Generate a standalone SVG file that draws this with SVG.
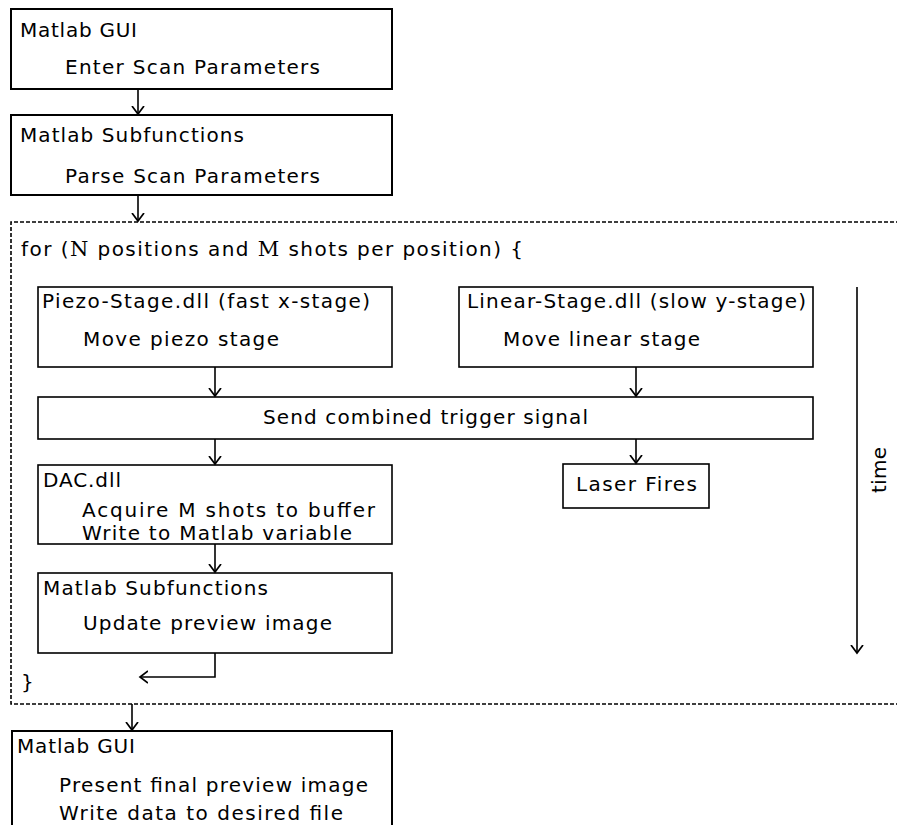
<svg xmlns="http://www.w3.org/2000/svg" width="897" height="825" viewBox="0 0 897 825">
<style>
  text { font-family: "DejaVu Sans", "Liberation Sans", Arial, sans-serif; font-size: 20px; fill: #000; }
  .box { fill: #fff; stroke: #000; stroke-width: 1.6; }
  .bigbox { fill: #fff; stroke: #000; stroke-width: 2; }
  .conn { fill: none; stroke: #000; stroke-width: 1.6; }
  .loop { fill: none; stroke: #000; stroke-width: 1.6; stroke-dasharray: 4 2; }
  .math { font-family: "DejaVu Serif", "Liberation Serif", serif; font-size: 21px; }
</style>
<defs>
  <marker id="ah" markerUnits="userSpaceOnUse" markerWidth="16" markerHeight="16" viewBox="-8 -8 16 16" refX="0" refY="0" orient="auto">
    <path d="M-8,-6 L0,0 L-8,6" fill="none" stroke="#000" stroke-width="1.7"/>
  </marker>
</defs>
<rect width="897" height="825" fill="#fff"/>

<g id="loop">
  <path class="loop" d="M900,222 H11 V704 H900"/>
  <text x="21" y="256" textLength="502" lengthAdjust="spacing">for (<tspan class="math">N</tspan> positions and <tspan class="math">M</tspan> shots per position) {</text>
  <text x="21" y="689">}</text>
</g>

<g id="gui-enter">
  <rect class="bigbox" x="11" y="9" width="381" height="80"/>
  <text x="20" y="37" textLength="117" lengthAdjust="spacing">Matlab GUI</text>
  <text x="65" y="74" textLength="255" lengthAdjust="spacing">Enter Scan Parameters</text>
</g>

<g id="sub-parse">
  <rect class="bigbox" x="11" y="115" width="381" height="80"/>
  <text x="20" y="142" textLength="224" lengthAdjust="spacing">Matlab Subfunctions</text>
  <text x="65" y="183" textLength="255" lengthAdjust="spacing">Parse Scan Parameters</text>
</g>

<g id="piezo">
  <rect class="box" x="38" y="287" width="354" height="80"/>
  <text x="42" y="308" textLength="328" lengthAdjust="spacing">Piezo-Stage.dll (fast x-stage)</text>
  <text x="83" y="346" textLength="196" lengthAdjust="spacing">Move piezo stage</text>
</g>

<g id="linear">
  <rect class="box" x="459" y="287" width="354" height="80"/>
  <text x="467" y="308" textLength="339" lengthAdjust="spacing">Linear-Stage.dll (slow y-stage)</text>
  <text x="503" y="346" textLength="197" lengthAdjust="spacing">Move linear stage</text>
</g>

<g id="trigger">
  <rect class="box" x="38" y="397" width="775" height="42"/>
  <text x="263" y="424" textLength="325" lengthAdjust="spacing">Send combined trigger signal</text>
</g>

<g id="dac">
  <rect class="box" x="38" y="465" width="354" height="79"/>
  <text x="43" y="487" textLength="78" lengthAdjust="spacing">DAC.dll</text>
  <text x="82" y="517" textLength="293" lengthAdjust="spacing">Acquire M shots to buffer</text>
  <text x="82" y="540" textLength="270" lengthAdjust="spacing">Write to Matlab variable</text>
</g>

<g id="laser">
  <rect class="box" x="563" y="464" width="146" height="44"/>
  <text x="576" y="491" textLength="121" lengthAdjust="spacing">Laser Fires</text>
</g>

<g id="sub-update">
  <rect class="box" x="38" y="573" width="354" height="80"/>
  <text x="43" y="595" textLength="225" lengthAdjust="spacing">Matlab Subfunctions</text>
  <text x="83" y="630" textLength="249" lengthAdjust="spacing">Update preview image</text>
</g>

<g id="gui-final">
  <path class="bigbox" d="M12,830 V731 H392 V830"/>
  <text x="17" y="753" textLength="118" lengthAdjust="spacing">Matlab GUI</text>
  <text x="59" y="792" textLength="309" lengthAdjust="spacing">Present final preview image</text>
  <text x="59" y="820" textLength="284" lengthAdjust="spacing">Write data to desired file</text>
</g>

<g id="time-axis">
  <text x="0" y="0" transform="translate(886,493) rotate(-90)" textLength="46" lengthAdjust="spacing">time</text>
</g>

<g id="connectors">
  <path class="conn" d="M138,89 V114" marker-end="url(#ah)"/>
  <path class="conn" d="M138,195 V221" marker-end="url(#ah)"/>
  <path class="conn" d="M215,367 V396" marker-end="url(#ah)"/>
  <path class="conn" d="M636,367 V396" marker-end="url(#ah)"/>
  <path class="conn" d="M215,439 V464" marker-end="url(#ah)"/>
  <path class="conn" d="M636,439 V463" marker-end="url(#ah)"/>
  <path class="conn" d="M215,544 V572" marker-end="url(#ah)"/>
  <path class="conn" d="M215,653 V677 H140" marker-end="url(#ah)"/>
  <path class="conn" d="M132,704 V730" marker-end="url(#ah)"/>
  <path class="conn" d="M857,287 V653" marker-end="url(#ah)"/>
</g>
</svg>
